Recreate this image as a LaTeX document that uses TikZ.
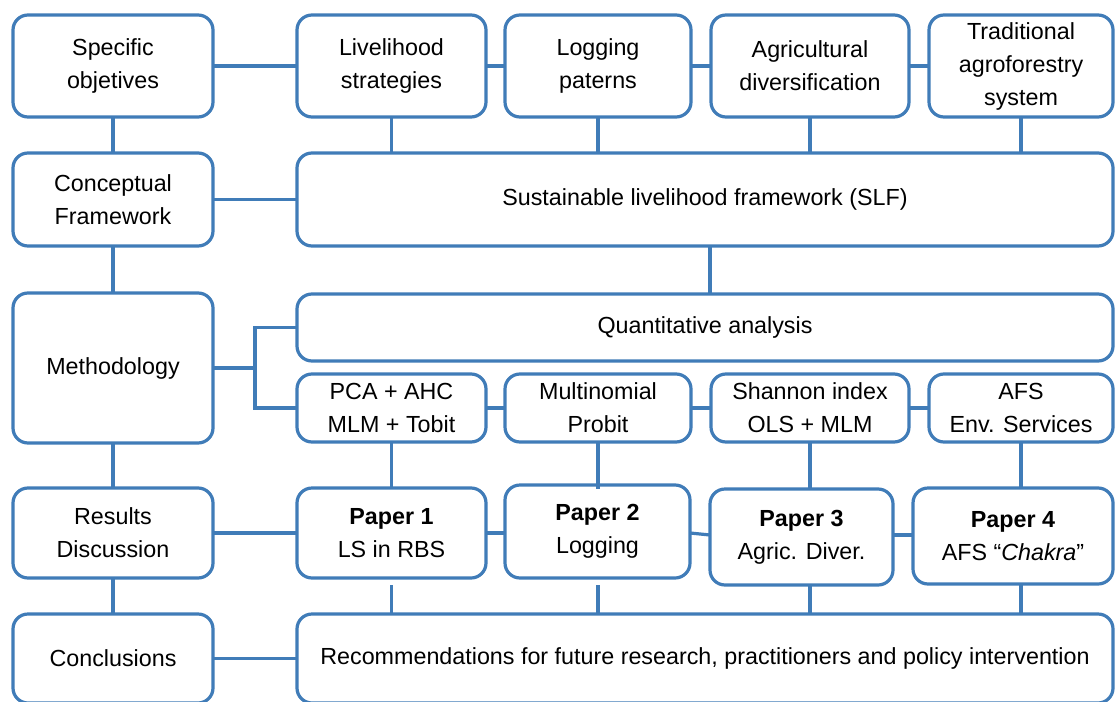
\documentclass[tikz,border=0pt]{standalone}
\usepackage{fontspec}
\setmainfont{Liberation Sans}
\definecolor{lineblue}{RGB}{64,124,184}
\tikzset{
  box/.style={draw=lineblue, line width=3.2pt, rounded corners=15pt, fill=white,
    align=center, inner sep=0pt, outer sep=0pt, font=\fontsize{23.3}{33}\selectfont},
  link/.style={draw=lineblue, line width=3.2pt},
}

\begin{document}
\begin{tikzpicture}[x=1pt,y=-1pt]
  \useasboundingbox[fill=white] (0,0) rectangle (1115,701);

  % left column
  \node[box, minimum width=200pt, minimum height=102pt] (obj) at (113,66) {Specific\\objetives};
  \node[box, minimum width=200pt, minimum height=93pt] (concept) at (113,199.5) {Conceptual\\Framework};
  \node[box, minimum width=200pt, minimum height=150pt] (meth) at (113,368) {Methodology};
  \node[box, minimum width=200pt, minimum height=90pt] (results) at (113,533) {Results\\Discussion};
  \node[box, minimum width=200pt, minimum height=89pt] (concl) at (113,658.5) {Conclusions};

  % objectives
  \node[box, minimum width=189pt, minimum height=102pt] (ls) at (391.5,66) {Livelihood\\strategies};
  \node[box, minimum width=186pt, minimum height=102pt] (logp) at (598,66) {Logging\\paterns};
  \node[box, minimum width=198pt, minimum height=102pt] (agdiv) at (810,66) {Agricultural\\diversification};
  \node[box, minimum width=184pt, minimum height=102pt] (trad) at (1021,66) {Traditional\\agroforestry\\system};

  % framework
  \node[box, minimum width=816pt, minimum height=93pt] (slf) at (705,199.5) {Sustainable livelihood framework (SLF)};

  % methods
  \node[box, minimum width=816pt, minimum height=67pt] (quant) at (705,327.5) {Quantitative analysis};
  \node[box, minimum width=189pt, minimum height=68pt] (pca) at (391.5,408) {PCA + AHC\\MLM + Tobit};
  \node[box, minimum width=186pt, minimum height=68pt] (probit) at (598,408) {Multinomial\\Probit};
  \node[box, minimum width=198pt, minimum height=68pt] (shannon) at (810,408) {Shannon index\\OLS + MLM};
  \node[box, minimum width=184pt, minimum height=68pt] (afs) at (1021,408) {AFS\\Env. Services};

  % papers
  \node[box, minimum width=189pt, minimum height=90pt] (p1) at (391.5,533) {\textbf{Paper 1}\\LS in RBS};
  \node[box, minimum width=185pt, minimum height=93pt] (p2) at (597.5,531.5) {\textbf{Paper 2}\\Logging};
  \node[box, minimum width=183pt, minimum height=96pt] (p3) at (801.5,537) {\textbf{Paper 3}\\Agric. Diver.};
  \node[box, minimum width=200pt, minimum height=96pt] (p4) at (1013,536) {\textbf{Paper 4}\\AFS “\textit{Chakra}”};

  % recommendations
  \node[box, minimum width=816pt, minimum height=89pt] (recom) at (705,658.5)
    {Recommendations for future research, practitioners and policy intervention};

  % left column links
  \draw[link] (obj) -- (concept);
  \draw[link] (concept) -- (meth);
  \draw[link] (meth) -- (results);
  \draw[link] (results) -- (concl);

  % row links
  \draw[link] (obj) -- (ls);
  \draw[link] (ls) -- (logp);
  \draw[link] (logp) -- (agdiv);
  \draw[link] (agdiv) -- (trad);
  \draw[link] (concept) -- (slf);
  \draw[link] (pca) -- (probit);
  \draw[link] (probit) -- (shannon);
  \draw[link] (shannon) -- (afs);
  \draw[link] (results.east) -- (results.east -| p1.west);
  \draw[link] (p1.east |- results.east) -- (results.east -| p2.west);
  \draw[link] (p2.east |- results.east) -- ([yshift=2pt]p3.west);
  \draw[link] ([yshift=2pt]p3.east) -- ([yshift=2pt]p3.east -| p4.west);
  \draw[link] (concl) -- (recom);

  % methodology bracket
  \coordinate (brk) at (255,368);
  \draw[link] (meth.east) -- (brk);
  \draw[link] (quant.west) -| (brk) |- (pca.west);

  % vertical links
  \draw[link] ([xshift=5pt]slf.south) -- ([xshift=5pt]quant.north);
  \foreach \top/\bot in {ls/pca, logp/probit, agdiv/shannon, trad/afs}{
    \draw[link] (\top.south) -- (\top.south |- slf.north);
    \draw[link] (\bot.south) -- (\bot.south |- p3.north);
    \draw[link] (\bot.south |- p3.south) -- (\bot.south |- recom.north);
  }
\end{tikzpicture}
\end{document}
